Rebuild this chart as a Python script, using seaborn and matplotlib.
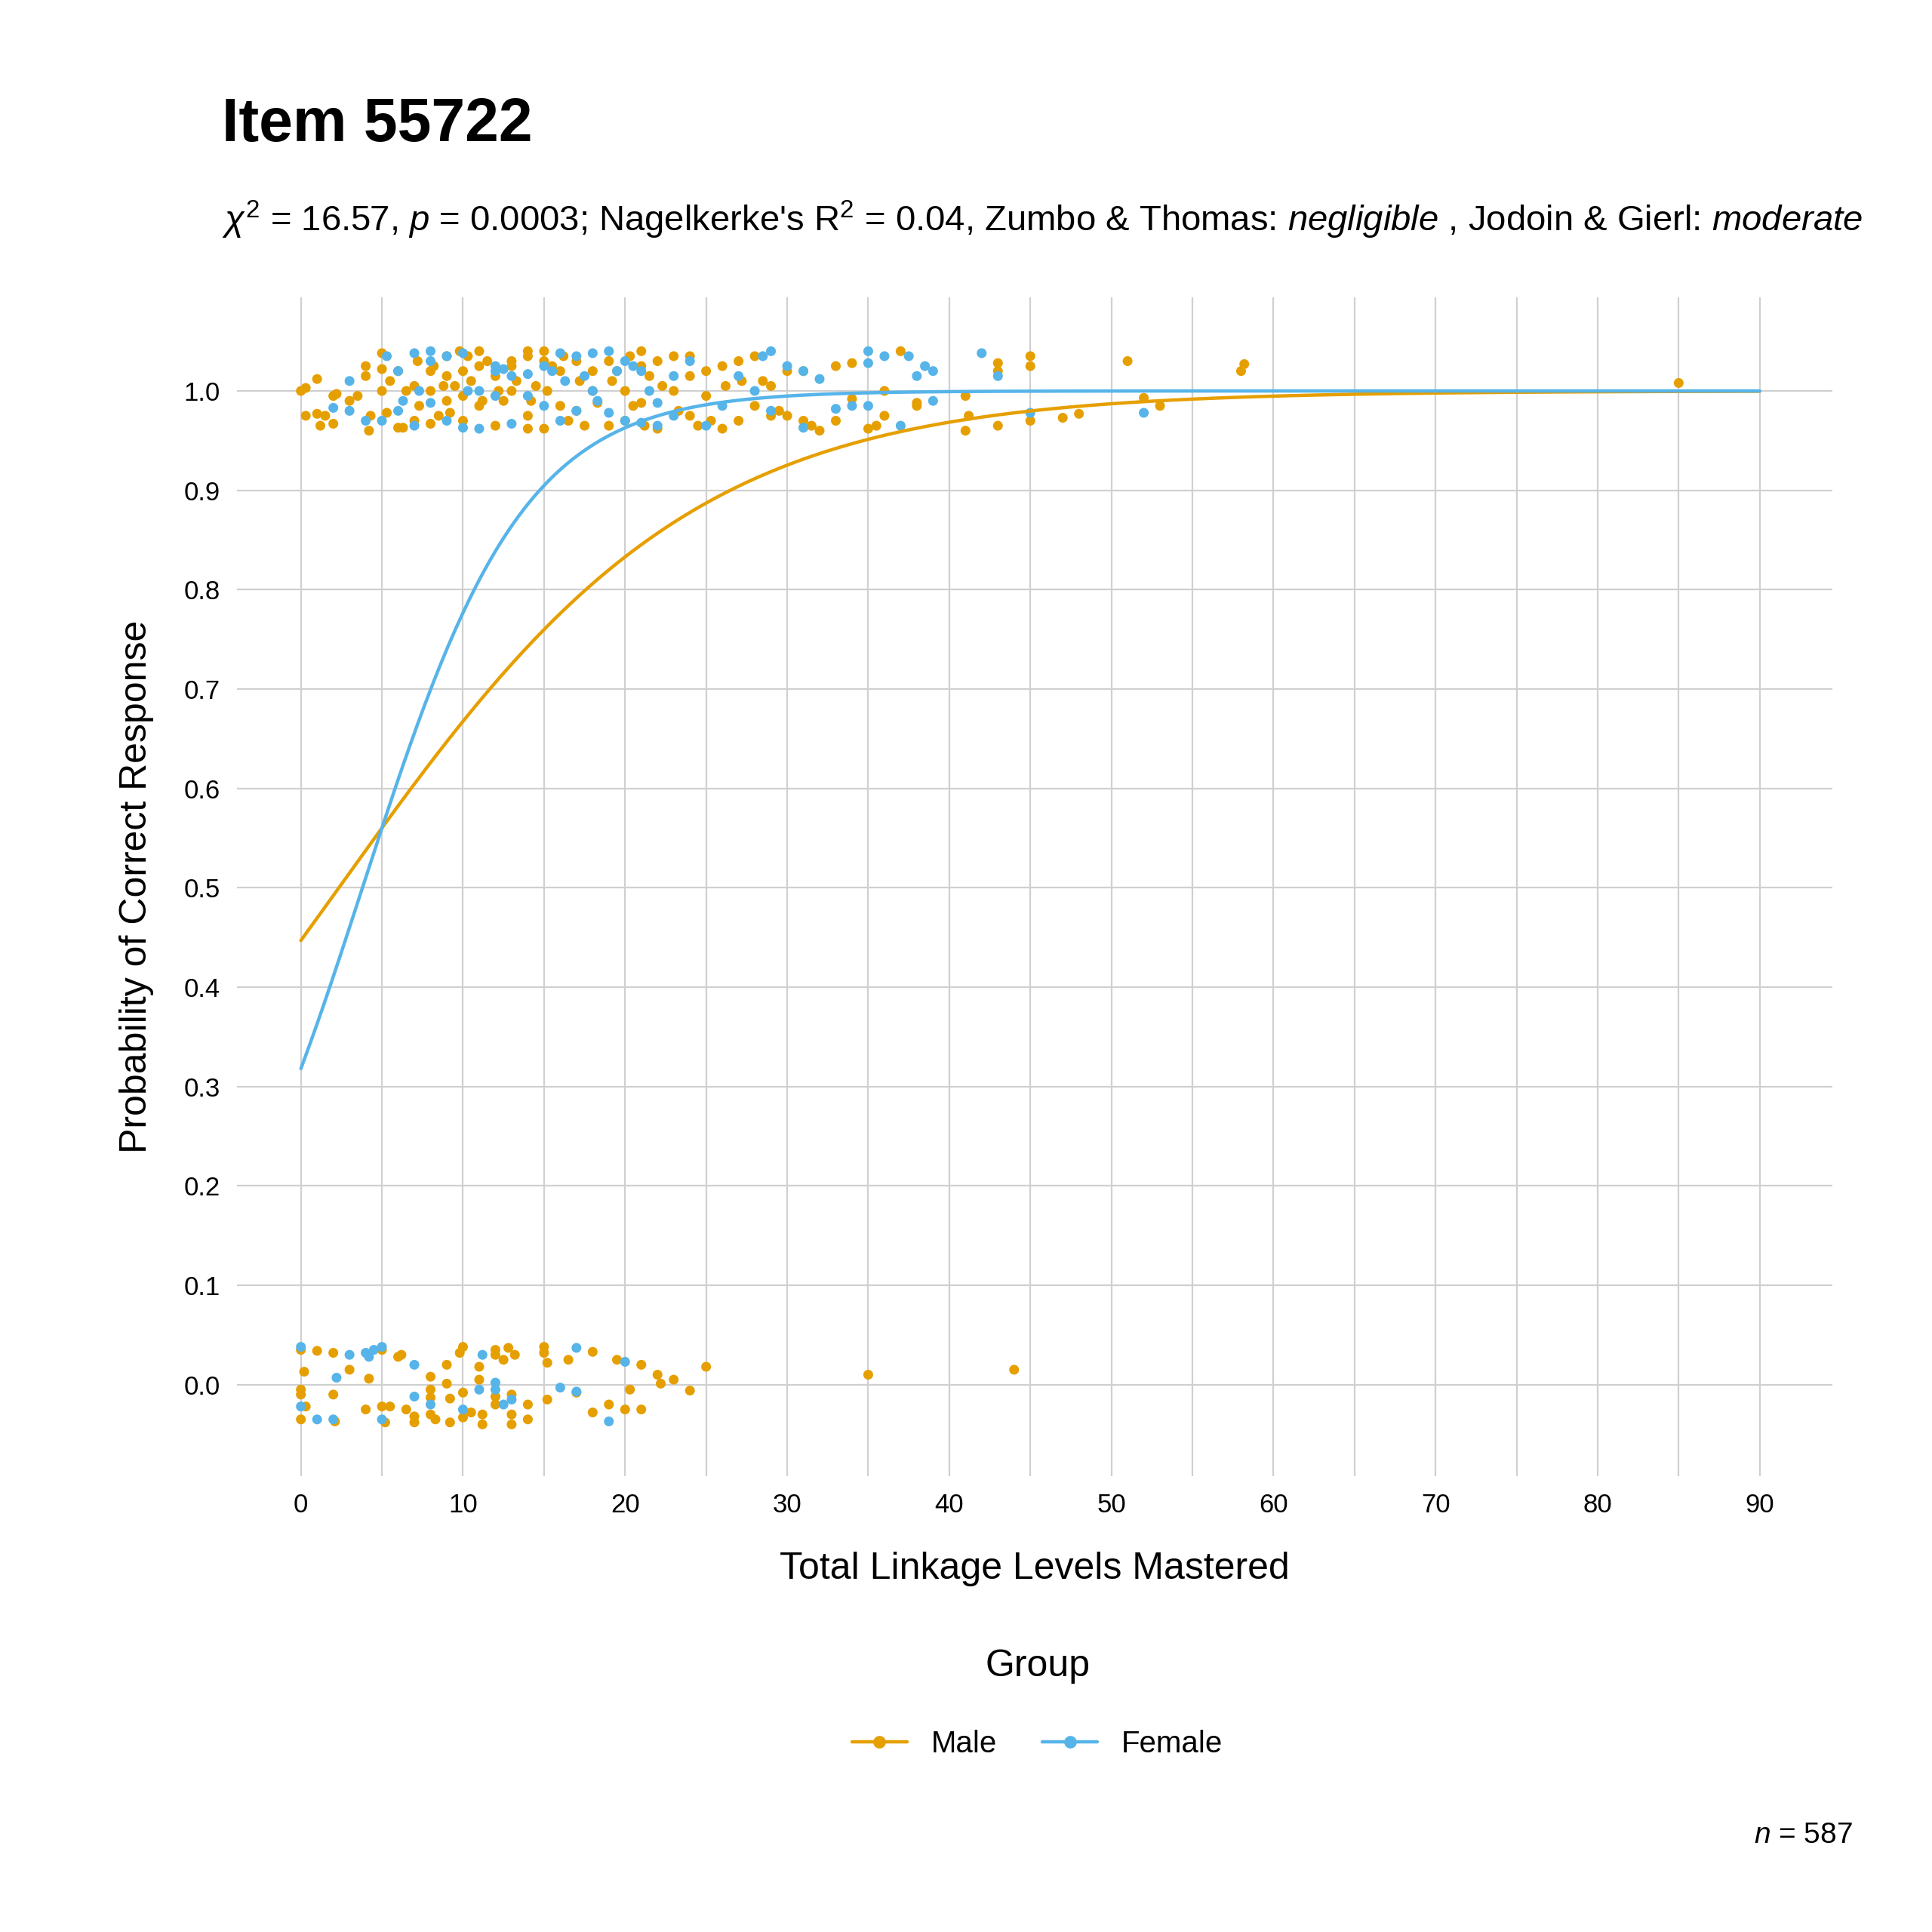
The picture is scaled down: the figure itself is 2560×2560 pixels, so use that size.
import numpy as np
import pandas as pd
import matplotlib
matplotlib.use("Agg")
import matplotlib.pyplot as plt
from matplotlib.lines import Line2D
import seaborn as sns

# Observed responses: (total linkage levels, jittered response)
male_correct = [
    (0,0.0),(0.3,-0.025),(0.3,0.003),(1,0.012),(1,-0.023),(1.2,-0.035),(1.5,-0.025),(2,-0.005),(2,-0.033),(2.2,-0.003),
    (3,-0.01),(3.5,-0.005),(4,0.015),(4,0.025),(4.2,-0.04),(4.3,-0.025),(5,0.038),(5,0.022),(5,0.0),(5.3,-0.022),
    (5.5,0.01),(6,-0.037),(6,0.02),(6.3,-0.037),(6.5,0.0),(7,0.005),(7,-0.03),(7.2,0.03),(7.3,-0.015),(8,0.02),
    (8,0.0),(8,-0.033),(8.2,0.025),(8.5,-0.025),(8.8,0.005),(9,0.035),(9,0.015),(9,-0.01),(9.2,-0.022),(9.5,0.005),
    (9.8,0.04),(10,0.02),(10,-0.005),(10,-0.03),(10.3,0.035),(10.5,0.01),(11,0.04),(11,0.025),(11,-0.015),(11.2,-0.01),
    (11.5,0.03),(12,0.015),(12,-0.035),(12.2,0.0),(12.5,-0.01),(13,0.025),(13,0.03),(13,-0.0),(13.3,0.01),(14,0.04),
    (14,0.035),(14,-0.025),(14,-0.038),(14.2,-0.01),(14.5,0.005),(15,0.04),(15,0.03),(15,-0.038),(15.2,0.0),(15.5,0.025),
    (16,0.02),(16,-0.015),(16.2,0.035),(16.5,-0.03),(17,0.03),(17,-0.02),(17.2,0.01),(17.5,-0.035),(18,0.0),(18,0.02),
    (18.3,-0.012),(19,0.03),(19,-0.035),(19.2,0.01),(19.5,0.02),(20,-0.03),(20,0.0),(20.3,0.035),(20.5,-0.015),(21,0.04),
    (21,0.025),(21,-0.012),(21.2,-0.035),(21.5,0.015),(22,0.03),(22,-0.038),(22.3,0.005),(23,0.035),(23,0.0),(23.3,-0.02),
    (24,0.035),(24,-0.025),(24,0.015),(24.5,-0.035),(25,0.02),(25,-0.005),(25.3,-0.03),(26,0.025),(26,-0.038),(26.2,0.005),
    (27,0.03),(27,-0.03),(27.2,0.01),(28,0.035),(28,-0.015),(28.5,0.01),(29,-0.025),(29,0.005),(29.5,-0.02),(30,0.02),
    (30,-0.025),(31,0.02),(31,-0.03),(31.5,-0.035),(32,-0.04),(33,0.025),(33,-0.03),(34,0.028),(34,-0.008),(35,-0.038),
    (35.5,-0.035),(36,0.0),(36,-0.025),(37,0.04),(38,-0.015),(38,-0.012),(41,-0.04),(41,-0.005),(41.2,-0.025),(43,0.028),
    (43,0.02),(43,-0.035),(45,0.035),(45,0.025),(45,-0.03),(47,-0.027),(48,-0.023),(51,0.03),(52,-0.007),(53,-0.015),
    (58,0.02),(58.2,0.027),(85,0.008),
]
male_incorrect = [
    (0,0.035),(0,-0.01),(0,-0.035),(0,-0.005),(0.2,0.013),(0.3,-0.022),(1,0.034),(2,0.032),(2,-0.01),(2.1,-0.037),
    (3,0.015),(4,-0.025),(4.2,0.006),(5,-0.022),(5,0.035),(5.2,-0.038),(5.5,-0.022),(6,0.028),(6.2,0.03),(6.5,-0.025),
    (7,-0.032),(7,-0.038),(8,0.008),(8,-0.005),(8,-0.013),(8,-0.03),(8.3,-0.035),(9,0.02),(9,0.001),(9.2,-0.014),
    (9.2,-0.038),(9.8,0.032),(10,0.038),(10,-0.008),(10,-0.033),(10.5,-0.028),(11,0.018),(11,0.005),(11.2,-0.03),(11.2,-0.04),
    (12,0.035),(12,0.03),(12,-0.012),(12,-0.02),(12.5,0.025),(12.8,0.037),(13,-0.01),(13,-0.03),(13,-0.04),(13.2,0.03),
    (14,-0.02),(14,-0.035),(15,0.038),(15,0.032),(15.2,0.022),(15.2,-0.015),(16.5,0.025),(17,-0.008),(18,0.033),(18,-0.028),
    (19,-0.02),(19.5,0.025),(20,-0.025),(20.3,-0.005),(21,0.02),(21,-0.025),(22,0.01),(22.2,0.001),(23,0.005),(24,-0.006),
    (25,0.018),(35,0.01),(44,0.015),
]
female_correct = [
    (2,-0.017),(3,0.01),(3,-0.02),(4,-0.03),(5,-0.03),(5.3,0.035),(6,0.02),(6,-0.02),(6.3,-0.01),(7,0.038),
    (7,-0.035),(7.3,0.0),(8,0.04),(8,0.03),(8,-0.012),(9,0.035),(9,-0.03),(10,0.038),(10,-0.037),(10.3,0.0),
    (11,-0.038),(11,0.0),(12,0.025),(12,0.02),(12,-0.005),(12.5,0.022),(13,0.015),(13,-0.033),(14,0.017),(14,-0.005),
    (15,0.025),(15,-0.015),(15.5,0.02),(16,0.038),(16,-0.03),(16.3,0.01),(17,0.035),(17,-0.02),(17.5,0.015),(18,0.038),
    (18,0.0),(18.3,-0.01),(19,0.04),(19,-0.022),(19.5,0.02),(20,0.03),(20,-0.03),(20.5,0.025),(21,0.02),(21,-0.032),
    (21.5,0.0),(22,-0.035),(22,-0.012),(23,0.015),(23,-0.025),(24,0.03),(25,-0.035),(26,-0.015),(27,0.015),(28,0.0),
    (28.5,0.035),(29,0.04),(29,-0.02),(30,0.025),(31,0.02),(31,-0.037),(32,0.012),(33,-0.018),(34,-0.015),(35,0.04),
    (35,0.028),(35,-0.015),(36,0.035),(37,-0.035),(37.5,0.035),(38,0.015),(38.5,0.025),(39,-0.01),(39,0.02),(42,0.038),
    (43,0.015),(45,-0.022),(52,-0.022),
]
female_incorrect = [
    (0,0.038),(0,-0.022),(1,-0.035),(2,-0.035),(2.2,0.007),(3,0.03),(4,0.032),(4.2,0.028),(4.5,0.035),(5,0.038),
    (5,-0.035),(7,0.02),(7,-0.012),(8,-0.02),(10,-0.025),(11,-0.005),(11.2,0.03),(12,0.002),(12,-0.005),(12.5,-0.02),
    (13,-0.015),(16,-0.003),(17,0.037),(17,-0.007),(19,-0.037),(20,0.023),
]

# Logistic fit coefficients (intercept, slope)
groups = ["Male", "Female"]
coefs = {"Male": (-0.213, 0.091), "Female": (-0.763, 0.201)}
colors = {"Male": "#E69F00", "Female": "#56B4E9"}

rows = []
for grp, sets in [("Male", [(male_correct, 1), (male_incorrect, 0)]),
                  ("Female", [(female_correct, 1), (female_incorrect, 0)])]:
    for pts, resp in sets:
        for x, dy in pts:
            rows.append((grp, x, resp + dy))
df = pd.DataFrame(rows, columns=["Group", "total", "score"])

grid = np.linspace(0, 90, 400)
curves = []
for grp in groups:
    a, b = coefs[grp]
    for x in grid:
        curves.append((grp, x, 1 / (1 + np.exp(-(a + b * x)))))
curves = pd.DataFrame(curves, columns=["Group", "total", "prob"])

sns.set_theme(style="whitegrid")
plt.rcParams["font.family"] = ["Liberation Sans", "DejaVu Sans"]
plt.rcParams["mathtext.fontset"] = "custom"
plt.rcParams["mathtext.rm"] = "Liberation Sans"
plt.rcParams["mathtext.it"] = "Liberation Sans:italic"
plt.rcParams["text.color"] = "black"
plt.rcParams["axes.labelcolor"] = "black"

fig = plt.figure(figsize=(12.8, 12.8), dpi=200)
ax = fig.add_axes([0.1226, 0.236, 0.826, 0.610])

sns.scatterplot(data=df, x="total", y="score", hue="Group", palette=colors,
                hue_order=groups, s=22, linewidth=0, ax=ax, legend=False, zorder=3)
sns.lineplot(data=curves, x="total", y="prob", hue="Group", palette=colors,
             hue_order=groups, linewidth=1.6, ax=ax, legend=False, zorder=4)

ax.set_xlim(-3.95, 94.5)
ax.set_ylim(-0.092, 1.094)
ax.set_xticks(np.arange(0, 91, 10))
ax.set_xticks(np.arange(5, 91, 10), minor=True)
ax.set_yticks(np.arange(0, 1.01, 0.1))
ax.set_yticklabels([f"{v:.1f}" for v in np.arange(0, 1.01, 0.1)])
ax.grid(True, which="major", color="#d0d0d0", linewidth=0.8)
ax.grid(True, which="minor", axis="x", color="#d0d0d0", linewidth=0.8)
for s in ax.spines.values():
    s.set_visible(False)
ax.tick_params(axis="both", which="both", length=0, labelsize=12.5, colors="black", pad=8)
ax.set_xlabel("Total Linkage Levels Mastered", fontsize=18, labelpad=16)
ax.set_ylabel("Probability of Correct Response", fontsize=18, labelpad=14)

fig.text(0.115, 0.935, "Item 55722", fontsize=29, fontweight="bold", va="center")
fig.text(0.115, 0.886,
         r"$\chi^2$ = 16.57, $\it{p}$ = 0.0003; Nagelkerke's R$^2$ = 0.04, Zumbo & Thomas: "
         r"$\it{negligible}$ , Jodoin & Gierl: $\it{moderate}$",
         fontsize=17, va="center")

handles = [Line2D([0], [0], color=colors[g], marker="o", markersize=5, linewidth=1.6) for g in groups]
leg = fig.legend(handles, groups, loc="center", bbox_to_anchor=(0.537, 0.118), ncol=2,
                 frameon=False, title="Group", fontsize=14.5, title_fontsize=18,
                 handlelength=1.8, columnspacing=1.5)
leg._legend_box.sep = 22
fig.text(0.959, 0.05, r"$\it{n}$ = 587", fontsize=14, ha="right", va="center")

fig.savefig("out.png", dpi=200)
